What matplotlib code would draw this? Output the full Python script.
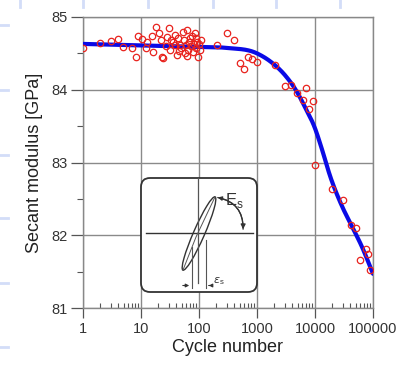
import numpy as np
import matplotlib
matplotlib.use('Agg')
import matplotlib.pyplot as plt
from matplotlib.patches import FancyBboxPatch, Ellipse, FancyArrowPatch
from matplotlib.lines import Line2D
from matplotlib.ticker import LogLocator, NullFormatter, FixedLocator

plt.rcParams['font.family'] = ['Liberation Sans', 'DejaVu Sans']

# measured points (cycle number, secant modulus in GPa)
cycles = [1, 2, 3, 4, 4.9, 7, 8.2, 8.9, 10.4, 12.7, 12.2, 15.5, 16.1, 18.1, 20.4, 22.1,
          23, 23.9, 28, 30.4, 31.6, 35.6, 41.7, 47, 53, 62, 62, 70, 79, 85, 96, 92,
          38, 43, 49, 55, 60, 64, 67, 72, 75, 82, 89, 89, 100, 104, 108, 57, 45, 38, 27, 33,
          204, 304, 401, 509, 597, 700, 820, 1000, 2040, 3040, 3850, 4900, 7000, 6200,
          7880, 9240, 10000, 19600, 30400, 41800, 50900, 75700, 82000, 59700, 88800]
modulus = [84.58, 84.64, 84.67, 84.70, 84.59, 84.58, 84.45, 84.74, 84.70, 84.66, 84.58,
           84.74, 84.52, 84.86, 84.78, 84.68, 84.45, 84.44, 84.73, 84.85, 84.55, 84.66,
           84.48, 84.62, 84.79, 84.82, 84.47, 84.71, 84.52, 84.78, 84.45, 84.66,
           84.62, 84.71, 84.58, 84.68, 84.62, 84.55, 84.66, 84.60, 84.74, 84.63, 84.58,
           84.71, 84.63, 84.55, 84.68, 84.51, 84.53, 84.75, 84.60, 84.68,
           84.62, 84.78, 84.68, 84.37, 84.29, 84.45, 84.42, 84.38, 84.34, 84.05, 84.07,
           83.95, 84.03, 83.86, 83.73, 83.85, 82.96, 82.64, 82.48, 82.14, 82.10, 81.81,
           81.74, 81.66, 81.52]

# fitted trend curve
fit_cycles = [1, 10, 100, 300, 1000, 1890, 3040, 4890, 6730, 10000, 13200, 18100,
              29200, 43500, 64600, 100000]
fit_modulus = [84.63, 84.61, 84.59, 84.575, 84.50, 84.36, 84.20, 83.97, 83.76, 83.47,
               83.18, 82.82, 82.40, 82.12, 81.84, 81.47]

x_ticks = [1, 10, 100, 1000, 10000, 100000]
x_labels = ['1', '10', '100', '1000', '10000', '100000']
y_ticks = [81, 82, 83, 84, 85]


def hermite(xk, yk, xs):
    """Smooth cubic Hermite curve through the knots (slopes from neighbours)"""
    xk = np.asarray(xk, float)
    yk = np.asarray(yk, float)
    m = np.gradient(yk, xk)
    i = np.clip(np.searchsorted(xk, xs) - 1, 0, len(xk) - 2)
    h = xk[i + 1] - xk[i]
    t = (xs - xk[i]) / h
    return ((2 * t**3 - 3 * t**2 + 1) * yk[i] + (t**3 - 2 * t**2 + t) * h * m[i]
            + (-2 * t**3 + 3 * t**2) * yk[i + 1] + (t**3 - t**2) * h * m[i + 1])


fig = plt.figure(figsize=(3.97, 3.70), dpi=100)

# faint slide-grid marks on the edges of the original picture
for px in [20, 83, 148, 213, 276, 340]:
    fig.add_artist(Line2D([px / 397, px / 397], [0.999, 1 - 7 / 370], color='#d3ddf8', lw=2))
for py in [25, 90, 155, 218, 283, 347]:
    fig.add_artist(Line2D([0, 8 / 397], [1 - py / 370, 1 - py / 370], color='#d3ddf8', lw=2))

ax = fig.add_axes([83 / 397, 62 / 370, 290 / 397, 291 / 370])
ax.set_xscale('log')
ax.set_xlim(1, 100000)
ax.set_ylim(81, 85)

dense = np.linspace(0, 5, 500)
ax.plot(10 ** dense, hermite(np.log10(fit_cycles), fit_modulus, dense), color='#0a0ae6',
        lw=3, solid_capstyle='round', zorder=3)
ax.plot(cycles, modulus, 'o', mfc='none', mec='#e8231e', ms=4.6, mew=0.9, zorder=4)

ax.xaxis.set_major_locator(FixedLocator(x_ticks))
ax.set_xticklabels(x_labels)
ax.xaxis.set_minor_locator(LogLocator(base=10, subs=np.arange(2, 10)))
ax.xaxis.set_minor_formatter(NullFormatter())
ax.set_yticks(y_ticks)
ax.set_yticks([81.5, 82.5, 83.5, 84.5], minor=True)

ax.tick_params(axis='x', which='major', direction='out', length=7, width=0.9,
               color='#555555', labelsize=10.5, labelcolor='#333333', pad=3)
ax.tick_params(axis='x', which='minor', direction='in', length=3.5, width=0.8,
               color='#555555')
ax.tick_params(axis='y', which='major', direction='out', length=9, width=0.9,
               color='#555555', labelsize=10.5, labelcolor='#333333', pad=2)
ax.tick_params(axis='y', which='minor', direction='out', length=4.5, width=0.8,
               color='#555555')

ax.grid(True, which='major', color='#8a8a8a', lw=1.0)
for s in ax.spines.values():
    s.set_color('#888888')
    s.set_linewidth(1.0)

ax.set_xlabel('Cycle number', fontsize=13, color='#222222', labelpad=2)
ax.set_ylabel('Secant modulus [GPa]', fontsize=13, color='#222222', labelpad=6)

# inset sketch of the hysteresis loop
ins = fig.add_axes([140 / 397, 77 / 370, 118 / 397, 116 / 370])
ins.set_xlim(0, 118)
ins.set_ylim(0, 116)
ins.axis('off')
ins.add_patch(FancyBboxPatch((1, 1), 116, 114, boxstyle='round,pad=0,rounding_size=9',
                             fc='white', ec='#333333', lw=1.3, clip_on=False))
ins.plot([6, 113], [60, 60], color='#333333', lw=1.0)
ins.plot([58, 58], [115, 10], color='#555555', lw=0.9)
ins.add_patch(Ellipse((59, 59.5), 80, 11, angle=66.3, fc='none', ec='#333333', lw=1.0))
ins.plot([43, 56, 75], [23, 56, 96], color='#555555', lw=0.7)
ins.plot([52, 52], [46, 5], color='#555555', lw=0.8)
ins.plot([66, 66], [53, 5], color='#555555', lw=0.8)
ins.annotate('', xy=(52, 7.5), xytext=(40, 7.5),
             arrowprops=dict(arrowstyle='-|>', color='#333333', lw=0.8, mutation_scale=5))
ins.annotate('', xy=(66, 7.5), xytext=(72, 7.5),
             arrowprops=dict(arrowstyle='-|>', color='#333333', lw=0.8, mutation_scale=5))
ins.text(73, 12, r'$\varepsilon_\mathregular{s}$', fontsize=8, color='#333333',
         ha='left', va='center')
ins.add_patch(FancyArrowPatch((75, 96), (103, 61), connectionstyle='arc3,rad=-0.45',
                              arrowstyle='-|>', mutation_scale=7, color='#333333', lw=0.9))
ins.add_patch(FancyArrowPatch((103, 61), (75, 96), connectionstyle='arc3,rad=0.45',
                              arrowstyle='-|>', mutation_scale=6, color='#333333', lw=0.9))
ins.text(85, 93, r'E$_\mathregular{s}$', fontsize=12, color='#333333', ha='left',
         va='center')

fig.savefig('out.png', dpi=100)
